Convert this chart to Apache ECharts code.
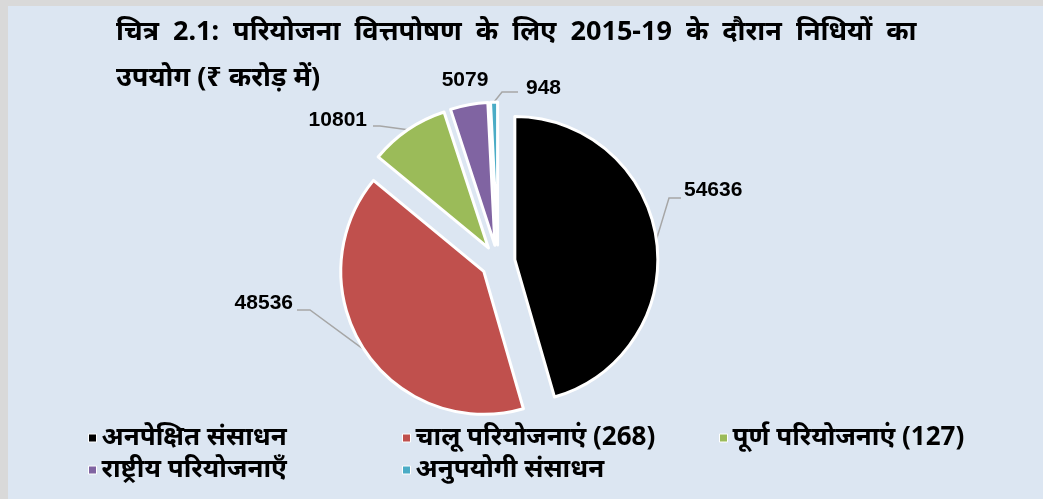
<!DOCTYPE html>
<html>
<head>
<meta charset="utf-8">
<script src="https://cdn.jsdelivr.net/npm/echarts@6/dist/echarts.min.js"></script>
<style>
  html, body { margin: 0; padding: 0; background: #d9d9d9; }
  #wrap { position: absolute; left: 8px; top: 6px; width: 1035px; height: 493px; background: #dce6f2; }
  #pie { width: 100%; height: 100%; }
</style>
</head>
<body>
<div id="wrap"><div id="pie"></div></div>
<script>
// data
const categories = ['अनपेक्षित संसाधन', 'चालू परियोजनाएं (268)', 'पूर्ण परियोजनाएं (127)', 'राष्ट्रीय परियोजनाएँ', 'अनुपयोगी संसाधन']
const values = [54636, 48536, 10801, 5079, 948]
const colors = ['#000000', '#c0504d', '#9bbb59', '#8064a2', '#4bacc6']
const titleLines = ['चित्र 2.1: परियोजना वित्तपोषण के लिए 2015-19 के दौरान निधियों का', 'उपयोग (₹ करोड़ में)']

const fontFam = '"Liberation Sans Narrow", "Noto Sans", sans-serif'
const pieCenter = [490, 256]
const pieRadius = 143
const explode = 17

// legend laid out in 3 columns, 2 rows like the original
const legendPos = [
  { left: 80, top: 417 },
  { left: 394, top: 417 },
  { left: 711, top: 417 },
  { left: 80, top: 449 },
  { left: 394, top: 449 }
]
const legends = categories.map((name, i) => ({
  data: [name],
  left: legendPos[i].left,
  top: legendPos[i].top,
  padding: 0,
  icon: 'rect',
  itemWidth: 8,
  itemHeight: 8,
  selectedMode: false,
  itemStyle: { borderColor: '#ffffff', borderWidth: 1 },
  textStyle: { fontSize: 26, fontWeight: 'bold', color: '#000', fontFamily: fontFam, lineHeight: 30 }
}))

// where each value label sits (the original moved them by hand)
const labelSpots = [
  { x: 676, y: 184, align: 'left', bend: [[661, 192], [673, 192]] },
  { x: 285, y: 297, align: 'right', bend: [[302, 304], [289, 304]] },
  { x: 359, y: 114, align: 'right', bend: [[372, 120], [365, 120]] },
  { x: 457, y: 74, align: 'center', bend: null },
  { x: 518, y: 82, align: 'left', bend: [[494, 86], [510, 86]] }
]

const myChart = echarts.init(document.getElementById('pie'))
const option = {
  backgroundColor: '#dce6f2',
  color: colors,
  animation: false,
  title: {
    text: titleLines[0].split(' ').join('  ') + '\n' + titleLines[1],
    left: 108,
    top: 3,
    padding: 0,
    textStyle: { fontSize: 27, fontWeight: 'bold', color: '#000', fontFamily: fontFam, lineHeight: 46 }
  },
  legend: legends,
  series: [
    {
      // exploded slices
      type: 'pie',
      radius: pieRadius,
      center: pieCenter,
      startAngle: 90,
      clockwise: true,
      selectedMode: 'multiple',
      selectedOffset: explode,
      itemStyle: { borderColor: '#ffffff', borderWidth: 3 },
      label: { show: false },
      labelLine: { show: false },
      emphasis: { disabled: true },
      data: categories.map((name, i) => ({ name: name, value: values[i], selected: true }))
    },
    {
      // same pie, invisible, only carries the value labels
      type: 'pie',
      radius: pieRadius,
      center: pieCenter,
      startAngle: 90,
      clockwise: true,
      silent: true,
      selectedMode: false,
      avoidLabelOverlap: false,
      itemStyle: { color: 'rgba(0,0,0,0)', borderWidth: 0 },
      label: {
        show: true,
        position: 'outside',
        formatter: '{c}',
        fontSize: 21,
        fontWeight: 'bold',
        color: '#000',
        fontFamily: '"Liberation Sans", Arial, sans-serif'
      },
      labelLine: {
        show: true,
        length: 20,
        length2: 20,
        lineStyle: { color: '#a6a6a6', width: 1.5 }
      },
      labelLayout: function (params) {
        const s = labelSpots[params.dataIndex]
        const out = { x: s.x, y: s.y, align: s.align, verticalAlign: 'middle' }
        if (s.bend && params.labelLinePoints) {
          // start the line on the exploded slice edge
          const p0 = params.labelLinePoints[0]
          const dx = p0[0] - pieCenter[0]
          const dy = p0[1] - pieCenter[1]
          const len = Math.sqrt(dx * dx + dy * dy) || 1
          const start = [p0[0] + dx / len * explode, p0[1] + dy / len * explode]
          out.labelLinePoints = [start, s.bend[0], s.bend[1]]
        }
        return out
      },
      emphasis: { disabled: true },
      data: categories.map((name, i) => ({
        name: name,
        value: values[i],
        labelLine: { show: labelSpots[i].bend !== null }
      }))
    }
  ]
}
myChart.setOption(option)
</script>
</body>
</html>
